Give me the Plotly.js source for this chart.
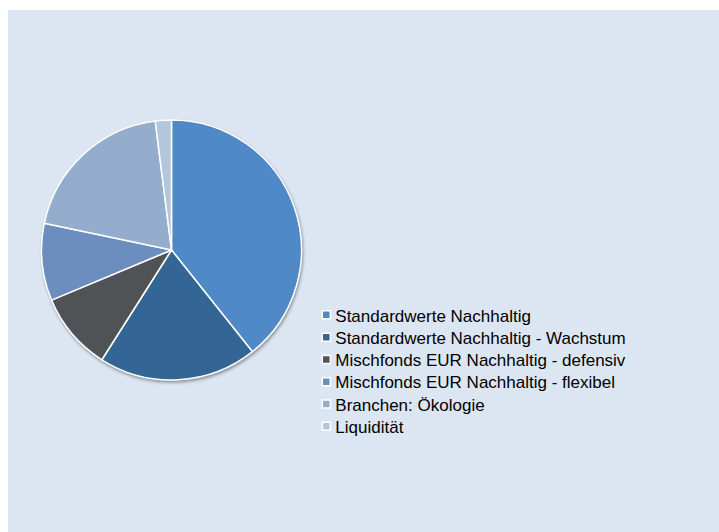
<!DOCTYPE html>
<html>
<head>
<meta charset="utf-8">
<script src="https://cdn.plot.ly/plotly-3.0.1.min.js"></script>
<style>
  html, body { margin: 0; padding: 0; background: #ffffff; }
  #chart { position: absolute; left: 8px; top: 10px; width: 711px; height: 522px; }
</style>
</head>
<body>
<div id="chart"></div>
<script>
const labels = [
  "Standardwerte Nachhaltig",
  "Standardwerte Nachhaltig - Wachstum",
  "Mischfonds EUR Nachhaltig - defensiv",
  "Mischfonds EUR Nachhaltig - flexibel",
  "Branchen: Ökologie",
  "Liquidität"
];
const values = [39.3, 19.7, 9.7, 9.6, 19.7, 2.0];
const colors = ["#4f89c7", "#336694", "#505356", "#6c8ebf", "#94adcc", "#b4c6de"];

const W = 711, H = 522;
const cx = 163.5, cy = 240, r = 130;

const trace = {
  type: "pie",
  labels: labels,
  values: values,
  sort: false,
  direction: "clockwise",
  rotation: 0,
  textinfo: "none",
  hoverinfo: "none",
  marker: { colors: colors, line: { color: "#ffffff", width: 1.5 } },
  domain: { x: [(cx - r) / W, (cx + r) / W], y: [(H - cy - r) / H, (H - cy + r) / H] }
};

const layout = {
  width: W, height: H,
  margin: { l: 0, r: 0, t: 0, b: 0 },
  paper_bgcolor: "#dce6f2",
  plot_bgcolor: "#dce6f2",
  showlegend: true,
  legend: {
    x: 0.43, y: 0.45, xanchor: "left", yanchor: "top",
    bgcolor: "rgba(0,0,0,0)",
    font: { family: "Liberation Sans, Arial, sans-serif", size: 17, color: "#000000" },
    itemclick: false
  },
  font: { family: "Liberation Sans, Arial, sans-serif" }
};

const gd = document.getElementById("chart");
function parseT(el) {
  const m = /translate\(\s*([-\d.e]+)[ ,]+([-\d.e]+)\s*\)/.exec(el.getAttribute("transform") || "");
  return m ? [parseFloat(m[1]), parseFloat(m[2])] : [0, 0];
}
function fixLegend() {
  const STEP = 22.3;
  const items = Array.from(gd.querySelectorAll(".legend .traces"));
  if (!items.length) return;
  const t0 = parseT(items[0]);
  items.forEach((g, i) => {
    const t = parseT(g);
    g.setAttribute("transform", "translate(" + t[0] + "," + (t0[1] + i * STEP) + ")");
  });
  items.forEach(g => {
    const p = g.querySelector(".legendpoints path");
    const tx = g.querySelector("text.legendtext");
    if (!p || !tx) return;
    p.setAttribute("d", "M4,4H-4V-4H4Z");
    const pr = p.getBoundingClientRect();
    const tr = tx.getBoundingClientRect();
    const pc = pr.left + pr.width / 2;
    const off = (tr.left - 9) - pc;
    p.setAttribute("d", "M" + (off + 4) + ",4H" + (off - 4) + "V-4H" + (off + 4) + "Z");
  });
  const leg = gd.querySelector("g.legend");
  const first = items[0].querySelector("text.legendtext");
  if (leg && first) {
    const fr = first.getBoundingClientRect();
    const dx = 335.3 - fr.left;
    const dy = 316 - (fr.top + fr.height / 2);
    const lt = parseT(leg);
    leg.setAttribute("transform", "translate(" + (lt[0] + dx) + "," + (lt[1] + dy) + ")");
  }
  const pl = gd.querySelector(".pielayer");
  if (pl) pl.style.filter = "drop-shadow(1.5px 2px 1.5px rgba(0,0,0,0.35))";
}

Plotly.newPlot(gd, [trace], layout, { staticPlot: true, displayModeBar: false }).then(fixLegend);
</script>
</body>
</html>
